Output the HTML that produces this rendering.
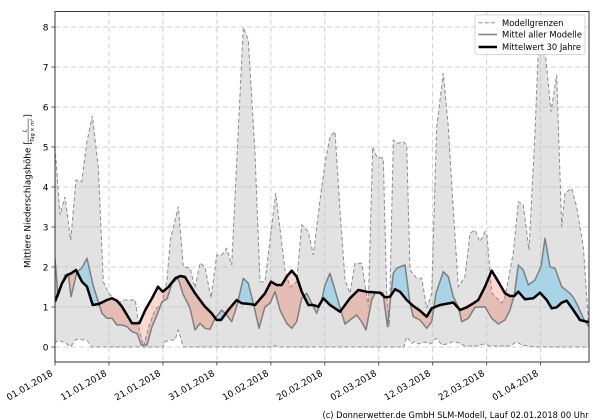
<!DOCTYPE html>
<html>
<head>
<meta charset="utf-8">
<style>
html,body{margin:0;padding:0;background:#fff;}
svg{display:block;}
text{font-family:"DejaVu Sans","Liberation Sans",sans-serif;fill:#000;}
</style>
</head>
<body>
<svg width="600" height="420" viewBox="0 0 600 420" xmlns="http://www.w3.org/2000/svg" xmlns:xlink="http://www.w3.org/1999/xlink">
<defs>
  <clipPath id="plot"><rect x="55" y="11.5" width="534" height="350.5"/></clipPath>
  <clipPath id="belowB"><polygon points="55,301.7 62,283.3 67,275 71.3,273.3 76,270 82,281.7 87,286.7 92.7,305 98.7,304 107,300 112,298.3 117,300.7 122,306.7 132,323.3 139.3,323.3 145.3,310 152,298.3 158,286.7 162.7,291.7 168.7,286.7 175.3,278.3 180.3,276 185,277 195,293.3 205,306.7 211.7,313.3 216.7,320 221,320 228.3,310 236.7,300 241.7,303.3 250,304 255,305 265,293.3 271,281.7 276.7,285 281.7,285 286.7,276.7 291.7,270.7 296.7,276.7 301.7,291.7 308.3,305 313.3,305 318.3,306.7 323.3,298.3 330,305 340,311.7 350,298.3 358.3,290 366.7,291.7 373.3,292.3 380,292.7 385,297.3 390,296.7 395,289.3 400,291.7 406.7,300 413.3,306 420,310.7 426.7,316.7 431.7,308.3 440,305 453.3,302.5 460,310 466.7,307.3 473.3,303.3 478.3,300 485,286.7 491.7,270.7 498.3,281.7 505,293.3 510,296 514.3,296 518.3,291.7 525,299.3 533.3,298.3 540,292.7 546.7,300 551.7,308.3 556.7,307.3 561.7,302.7 566.7,300.7 573.3,310 580,320 586.7,321.7 589,321.7 589,420 55,420"/></clipPath>
  <clipPath id="aboveB"><polygon points="55,301.7 62,283.3 67,275 71.3,273.3 76,270 82,281.7 87,286.7 92.7,305 98.7,304 107,300 112,298.3 117,300.7 122,306.7 132,323.3 139.3,323.3 145.3,310 152,298.3 158,286.7 162.7,291.7 168.7,286.7 175.3,278.3 180.3,276 185,277 195,293.3 205,306.7 211.7,313.3 216.7,320 221,320 228.3,310 236.7,300 241.7,303.3 250,304 255,305 265,293.3 271,281.7 276.7,285 281.7,285 286.7,276.7 291.7,270.7 296.7,276.7 301.7,291.7 308.3,305 313.3,305 318.3,306.7 323.3,298.3 330,305 340,311.7 350,298.3 358.3,290 366.7,291.7 373.3,292.3 380,292.7 385,297.3 390,296.7 395,289.3 400,291.7 406.7,300 413.3,306 420,310.7 426.7,316.7 431.7,308.3 440,305 453.3,302.5 460,310 466.7,307.3 473.3,303.3 478.3,300 485,286.7 491.7,270.7 498.3,281.7 505,293.3 510,296 514.3,296 518.3,291.7 525,299.3 533.3,298.3 540,292.7 546.7,300 551.7,308.3 556.7,307.3 561.7,302.7 566.7,300.7 573.3,310 580,320 586.7,321.7 589,321.7 589,0 55,0"/></clipPath>
  <clipPath id="aboveU"><polygon points="55,147 60,215 65,197 70.7,240 76,180 81.7,181.7 86.7,143 92.3,116 98.3,166.7 103.3,281.7 108.7,293.3 118.7,303 123.7,300 135.3,300 139.3,330 143.7,346 148.7,326.7 155,310 162,303 167,280 170.3,240 178.3,206.7 183.3,266.7 190,268 195,288 200,263 205,267 211,298 216.7,255 221.7,255 226.7,248.3 231.7,265 243.3,27.3 248.3,40 255,153 260,281.7 265,281.7 275.7,193.3 285,270 290,287 296.7,282 301.7,225 308.3,231.7 313.3,255 320,200 325,163.3 330,136.7 335,131.7 340,210 345,280 350,293.3 355,263.3 361.7,263.3 368.3,306.7 372.7,146.7 376.7,156.7 383.3,158.3 386.7,293.3 389.3,326.7 393.3,140 398.3,143.3 403.3,141.7 406.7,145 410,270 416.7,278.3 421.7,278.3 426.7,308.3 431.7,293.3 436.7,126.7 443.3,73.3 448.3,126.7 453.3,210 458.3,286.7 465,276.7 470,233.3 475,230 480,241.7 485,231.7 487,235 491.7,293 501.7,303 505,297 513.3,253 518.3,201.7 523.3,205 529,250 535,133 538.3,50 545,50 551,111.7 556.7,75 561.7,226.7 565,193 571.7,188.3 576.7,207 583.3,246.7 589,330 589,0 55,0"/></clipPath>
  <polygon id="diff" points="55,258 58,296.7 65,275 68.5,275 71,296.7 77,271.7 81.7,268.3 87,258.3 93,285 98.7,303 102,313.3 107,318.3 112,318.3 117,325 122,325 127,326.7 132,331.7 137,333.3 141.3,345 147,345 152,326.7 157,315 162,301.7 167,299 172,283.3 178,278 183,294 190,308 195,330 200,323.3 205,328.3 210,329.3 215,318.3 221.7,310 226.7,315 231.7,321.7 236.7,306.7 243.3,278.3 248.3,283.3 253.3,303.3 259,328.3 265,306.7 270,303.3 275,291.7 280,310 286.7,323.3 291.7,328.3 296.7,321.7 301.7,298.3 306.7,293.3 311.7,303.3 316.7,313.3 321.7,300 325,285 330,273.3 335,290 341.7,313.3 345,324 350,320 356.7,315 361.7,322 366,330 371.7,300 375,293.3 380,292 383,293 387.5,326.7 393.3,273.3 397,268 405,265 410,303.3 413.3,316.7 420,320 426.7,328.3 431.7,321.7 436,293.3 443.3,271.7 448.3,276.7 453.3,296.7 458.3,306.7 461.7,321.7 468.3,318.3 475,307.3 485,306.7 491.7,318.3 498.3,324 505,320 510,310 514.3,295 518.3,265 523.3,270 528.3,285 535,280 541,266.7 545,238.3 550,266.7 555,268.3 561.7,286.7 570,293.3 573.3,297.3 578.3,306.7 583.3,318.3 589,326.7 589,321.7 586.7,321.7 580,320 573.3,310 566.7,300.7 561.7,302.7 556.7,307.3 551.7,308.3 546.7,300 540,292.7 533.3,298.3 525,299.3 518.3,291.7 514.3,296 510,296 505,293.3 498.3,281.7 491.7,270.7 485,286.7 478.3,300 473.3,303.3 466.7,307.3 460,310 453.3,302.5 440,305 431.7,308.3 426.7,316.7 420,310.7 413.3,306 406.7,300 400,291.7 395,289.3 390,296.7 385,297.3 380,292.7 373.3,292.3 366.7,291.7 358.3,290 350,298.3 340,311.7 330,305 323.3,298.3 318.3,306.7 313.3,305 308.3,305 301.7,291.7 296.7,276.7 291.7,270.7 286.7,276.7 281.7,285 276.7,285 271,281.7 265,293.3 255,305 250,304 241.7,303.3 236.7,300 228.3,310 221,320 216.7,320 211.7,313.3 205,306.7 195,293.3 185,277 180.3,276 175.3,278.3 168.7,286.7 162.7,291.7 158,286.7 152,298.3 145.3,310 139.3,323.3 132,323.3 122,306.7 117,300.7 112,298.3 107,300 98.7,304 92.7,305 87,286.7 82,281.7 76,270 71.3,273.3 67,275 62,283.3 55,301.7"/>
</defs>

<rect x="0" y="0" width="600" height="420" fill="#fff"/>

<g clip-path="url(#plot)">
  <!-- model range band -->
  <polygon fill="#e2e2e2" points="55,147 60,215 65,197 70.7,240 76,180 81.7,181.7 86.7,143 92.3,116 98.3,166.7 103.3,281.7 108.7,293.3 118.7,303 123.7,300 135.3,300 139.3,330 143.7,346 148.7,326.7 155,310 162,303 167,280 170.3,240 178.3,206.7 183.3,266.7 190,268 195,288 200,263 205,267 211,298 216.7,255 221.7,255 226.7,248.3 231.7,265 243.3,27.3 248.3,40 255,153 260,281.7 265,281.7 275.7,193.3 285,270 290,287 296.7,282 301.7,225 308.3,231.7 313.3,255 320,200 325,163.3 330,136.7 335,131.7 340,210 345,280 350,293.3 355,263.3 361.7,263.3 368.3,306.7 372.7,146.7 376.7,156.7 383.3,158.3 386.7,293.3 389.3,326.7 393.3,140 398.3,143.3 403.3,141.7 406.7,145 410,270 416.7,278.3 421.7,278.3 426.7,308.3 431.7,293.3 436.7,126.7 443.3,73.3 448.3,126.7 453.3,210 458.3,286.7 465,276.7 470,233.3 475,230 480,241.7 485,231.7 487,235 491.7,293 501.7,303 505,297 513.3,253 518.3,201.7 523.3,205 529,250 535,133 538.3,50 545,50 551,111.7 556.7,75 561.7,226.7 565,193 571.7,188.3 576.7,207 583.3,246.7 589,330 589,347 535,347 521.7,345 516.7,341.7 510,346 490,346 483.3,344 478,346 465,346 458.3,342.7 453.3,341.7 446.7,344 441.7,345 436.7,338.3 430,344 425,342 418.3,344 415,341.7 411.7,343.3 406.7,336.7 404,347 278,347 275,345.5 272,347 183.3,347 178.3,330 175,340 170,340 165,341.7 163.3,347 91.7,347 86.7,340 76,339.3 70.7,346.7 65,342.7 58.3,340 55,343.3"/>

  <!-- salmon (model mean below 30y mean) -->
  <g clip-path="url(#belowB)">
    <use href="#diff" xlink:href="#diff" fill="#e6bdb3"/>
  </g>
  <!-- light pink where outside model range -->
  <g clip-path="url(#aboveU)">
    <g clip-path="url(#belowB)">
      <use href="#diff" xlink:href="#diff" fill="#fcd8d0"/>
    </g>
  </g>
  <!-- blue (model mean above 30y mean) -->
  <g clip-path="url(#aboveB)">
    <use href="#diff" xlink:href="#diff" fill="#a7d4e7"/>
  </g>

  <!-- grid -->
  <g stroke="#c4c4c4" stroke-width="0.8" stroke-dasharray="5,3" fill="none">
    <line x1="55" y1="347" x2="589" y2="347"/>
    <line x1="55" y1="307" x2="589" y2="307"/>
    <line x1="55" y1="267" x2="589" y2="267"/>
    <line x1="55" y1="227" x2="589" y2="227"/>
    <line x1="55" y1="187" x2="589" y2="187"/>
    <line x1="55" y1="147" x2="589" y2="147"/>
    <line x1="55" y1="107" x2="589" y2="107"/>
    <line x1="55" y1="67" x2="589" y2="67"/>
    <line x1="55" y1="27" x2="589" y2="27"/>
    <line x1="108.96" y1="11.5" x2="108.96" y2="362"/>
    <line x1="162.92" y1="11.5" x2="162.92" y2="362"/>
    <line x1="216.88" y1="11.5" x2="216.88" y2="362"/>
    <line x1="270.84" y1="11.5" x2="270.84" y2="362"/>
    <line x1="324.8" y1="11.5" x2="324.8" y2="362"/>
    <line x1="378.76" y1="11.5" x2="378.76" y2="362"/>
    <line x1="432.72" y1="11.5" x2="432.72" y2="362"/>
    <line x1="486.68" y1="11.5" x2="486.68" y2="362"/>
    <line x1="540.64" y1="11.5" x2="540.64" y2="362"/>
  </g>

  <!-- model bounds -->
  <polyline fill="none" stroke="#8c8c8c" stroke-width="1" stroke-dasharray="4,2.5" points="55,147 60,215 65,197 70.7,240 76,180 81.7,181.7 86.7,143 92.3,116 98.3,166.7 103.3,281.7 108.7,293.3 118.7,303 123.7,300 135.3,300 139.3,330 143.7,346 148.7,326.7 155,310 162,303 167,280 170.3,240 178.3,206.7 183.3,266.7 190,268 195,288 200,263 205,267 211,298 216.7,255 221.7,255 226.7,248.3 231.7,265 243.3,27.3 248.3,40 255,153 260,281.7 265,281.7 275.7,193.3 285,270 290,287 296.7,282 301.7,225 308.3,231.7 313.3,255 320,200 325,163.3 330,136.7 335,131.7 340,210 345,280 350,293.3 355,263.3 361.7,263.3 368.3,306.7 372.7,146.7 376.7,156.7 383.3,158.3 386.7,293.3 389.3,326.7 393.3,140 398.3,143.3 403.3,141.7 406.7,145 410,270 416.7,278.3 421.7,278.3 426.7,308.3 431.7,293.3 436.7,126.7 443.3,73.3 448.3,126.7 453.3,210 458.3,286.7 465,276.7 470,233.3 475,230 480,241.7 485,231.7 487,235 491.7,293 501.7,303 505,297 513.3,253 518.3,201.7 523.3,205 529,250 535,133 538.3,50 545,50 551,111.7 556.7,75 561.7,226.7 565,193 571.7,188.3 576.7,207 583.3,246.7 589,330"/>
  <polyline fill="none" stroke="#8c8c8c" stroke-width="1" stroke-dasharray="4,2.5" points="55,343.3 58.3,340 65,342.7 70.7,346.7 76,339.3 86.7,340 91.7,347 163.3,347 165,341.7 170,340 175,340 178.3,330 183.3,347 272,347 275,345.5 278,347 404,347 406.7,336.7 411.7,343.3 415,341.7 418.3,344 425,342 430,344 436.7,338.3 441.7,345 446.7,344 453.3,341.7 458.3,342.7 465,346 478,346 483.3,344 490,346 510,346 516.7,341.7 521.7,345 535,347 589,347"/>

  <!-- model mean -->
  <polyline fill="none" stroke="#7f7f7f" stroke-width="1.5" stroke-linejoin="round" points="55,258 58,296.7 65,275 68.5,275 71,296.7 77,271.7 81.7,268.3 87,258.3 93,285 98.7,303 102,313.3 107,318.3 112,318.3 117,325 122,325 127,326.7 132,331.7 137,333.3 141.3,345 147,345 152,326.7 157,315 162,301.7 167,299 172,283.3 178,278 183,294 190,308 195,330 200,323.3 205,328.3 210,329.3 215,318.3 221.7,310 226.7,315 231.7,321.7 236.7,306.7 243.3,278.3 248.3,283.3 253.3,303.3 259,328.3 265,306.7 270,303.3 275,291.7 280,310 286.7,323.3 291.7,328.3 296.7,321.7 301.7,298.3 306.7,293.3 311.7,303.3 316.7,313.3 321.7,300 325,285 330,273.3 335,290 341.7,313.3 345,324 350,320 356.7,315 361.7,322 366,330 371.7,300 375,293.3 380,292 383,293 387.5,326.7 393.3,273.3 397,268 405,265 410,303.3 413.3,316.7 420,320 426.7,328.3 431.7,321.7 436,293.3 443.3,271.7 448.3,276.7 453.3,296.7 458.3,306.7 461.7,321.7 468.3,318.3 475,307.3 485,306.7 491.7,318.3 498.3,324 505,320 510,310 514.3,295 518.3,265 523.3,270 528.3,285 535,280 541,266.7 545,238.3 550,266.7 555,268.3 561.7,286.7 570,293.3 573.3,297.3 578.3,306.7 583.3,318.3 589,326.7"/>

  <!-- 30-year mean -->
  <polyline fill="none" stroke="#000" stroke-width="2.5" stroke-linejoin="round" points="55,301.7 62,283.3 67,275 71.3,273.3 76,270 82,281.7 87,286.7 92.7,305 98.7,304 107,300 112,298.3 117,300.7 122,306.7 132,323.3 139.3,323.3 145.3,310 152,298.3 158,286.7 162.7,291.7 168.7,286.7 175.3,278.3 180.3,276 185,277 195,293.3 205,306.7 211.7,313.3 216.7,320 221,320 228.3,310 236.7,300 241.7,303.3 250,304 255,305 265,293.3 271,281.7 276.7,285 281.7,285 286.7,276.7 291.7,270.7 296.7,276.7 301.7,291.7 308.3,305 313.3,305 318.3,306.7 323.3,298.3 330,305 340,311.7 350,298.3 358.3,290 366.7,291.7 373.3,292.3 380,292.7 385,297.3 390,296.7 395,289.3 400,291.7 406.7,300 413.3,306 420,310.7 426.7,316.7 431.7,308.3 440,305 453.3,302.5 460,310 466.7,307.3 473.3,303.3 478.3,300 485,286.7 491.7,270.7 498.3,281.7 505,293.3 510,296 514.3,296 518.3,291.7 525,299.3 533.3,298.3 540,292.7 546.7,300 551.7,308.3 556.7,307.3 561.7,302.7 566.7,300.7 573.3,310 580,320 586.7,321.7 589,321.7"/>
</g>

<!-- spines -->
<rect x="55" y="11.5" width="534" height="350.5" fill="none" stroke="#333" stroke-width="1"/>

<!-- ticks -->
<g stroke="#333" stroke-width="0.8">
  <line x1="51.5" y1="347" x2="55" y2="347"/>
  <line x1="51.5" y1="307" x2="55" y2="307"/>
  <line x1="51.5" y1="267" x2="55" y2="267"/>
  <line x1="51.5" y1="227" x2="55" y2="227"/>
  <line x1="51.5" y1="187" x2="55" y2="187"/>
  <line x1="51.5" y1="147" x2="55" y2="147"/>
  <line x1="51.5" y1="107" x2="55" y2="107"/>
  <line x1="51.5" y1="67" x2="55" y2="67"/>
  <line x1="51.5" y1="27" x2="55" y2="27"/>
  <line x1="55" y1="362" x2="55" y2="365.5"/>
  <line x1="108.96" y1="362" x2="108.96" y2="365.5"/>
  <line x1="162.92" y1="362" x2="162.92" y2="365.5"/>
  <line x1="216.88" y1="362" x2="216.88" y2="365.5"/>
  <line x1="270.84" y1="362" x2="270.84" y2="365.5"/>
  <line x1="324.8" y1="362" x2="324.8" y2="365.5"/>
  <line x1="378.76" y1="362" x2="378.76" y2="365.5"/>
  <line x1="432.72" y1="362" x2="432.72" y2="365.5"/>
  <line x1="486.68" y1="362" x2="486.68" y2="365.5"/>
  <line x1="540.64" y1="362" x2="540.64" y2="365.5"/>
</g>
<g font-size="9" text-anchor="end">
  <text x="48.5" y="350.3">0</text>
  <text x="48.5" y="310.3">1</text>
  <text x="48.5" y="270.3">2</text>
  <text x="48.5" y="230.3">3</text>
  <text x="48.5" y="190.3">4</text>
  <text x="48.5" y="150.3">5</text>
  <text x="48.5" y="110.3">6</text>
  <text x="48.5" y="70.3">7</text>
  <text x="48.5" y="30.3">8</text>
</g>

<!-- x tick labels -->
<g font-size="9" text-anchor="end">
  <text x="53.5" y="375" transform="rotate(-30 53.5 375)">01.01.2018</text>
  <text x="107.5" y="375" transform="rotate(-30 107.5 375)">11.01.2018</text>
  <text x="161.4" y="375" transform="rotate(-30 161.4 375)">21.01.2018</text>
  <text x="215.4" y="375" transform="rotate(-30 215.4 375)">31.01.2018</text>
  <text x="269.3" y="375" transform="rotate(-30 269.3 375)">10.02.2018</text>
  <text x="323.3" y="375" transform="rotate(-30 323.3 375)">20.02.2018</text>
  <text x="377.3" y="375" transform="rotate(-30 377.3 375)">02.03.2018</text>
  <text x="431.2" y="375" transform="rotate(-30 431.2 375)">12.03.2018</text>
  <text x="485.2" y="375" transform="rotate(-30 485.2 375)">22.03.2018</text>
  <text x="539.1" y="375" transform="rotate(-30 539.1 375)">01.04.2018</text>
</g>

<!-- y axis label -->
<g transform="translate(30.5,268) rotate(-90)">
  <text x="0" y="0" font-size="8.8">Mittlere Niederschlagshöhe [</text>
  <text x="137.5" y="-4.2" font-size="5.5" font-style="italic" text-anchor="middle">L</text>
  <line x1="125.5" y1="-2.4" x2="149.5" y2="-2.4" stroke="#000" stroke-width="0.5"/>
  <text x="137.5" y="3.4" font-size="5" font-style="italic" text-anchor="middle">Tag × m²</text>
  <text x="150.5" y="0" font-size="8.8">]</text>
</g>

<!-- legend -->
<rect x="475" y="15" width="110" height="39.5" rx="2" ry="2" fill="#fff" fill-opacity="0.85" stroke="#cccccc" stroke-width="0.8"/>
<line x1="478.5" y1="22.7" x2="497" y2="22.7" stroke="#8c8c8c" stroke-width="1" stroke-dasharray="4,2.3"/>
<line x1="478.5" y1="34.5" x2="497" y2="34.5" stroke="#7f7f7f" stroke-width="1.5"/>
<line x1="478.5" y1="47" x2="497" y2="47" stroke="#000" stroke-width="2.5"/>
<g font-size="8.5">
  <text x="502" y="25.8" textLength="61.5" lengthAdjust="spacingAndGlyphs">Modellgrenzen</text>
  <text x="502" y="37.6" textLength="80" lengthAdjust="spacingAndGlyphs">Mittel aller Modelle</text>
  <text x="502" y="50.2" textLength="79" lengthAdjust="spacingAndGlyphs">Mittelwert 30 Jahre</text>
</g>

<!-- caption -->
<text x="588.5" y="418" font-size="9" text-anchor="end" textLength="266" lengthAdjust="spacingAndGlyphs">(c) Donnerwetter.de GmbH SLM-Modell, Lauf 02.01.2018 00 Uhr</text>
</svg>
</body>
</html>
